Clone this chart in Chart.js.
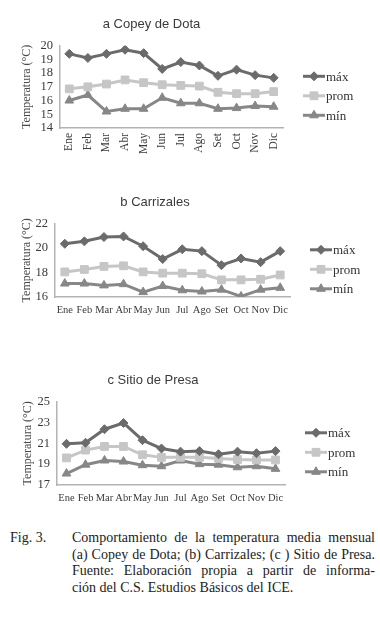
<!DOCTYPE html>
<html>
<head>
<meta charset="utf-8">
<script src="https://cdn.jsdelivr.net/npm/chart.js@4"></script>
<style>
  body { margin: 0; background: #fff; width: 380px; height: 619px; position: relative; overflow: hidden; }
  .box { position: absolute; left: 0; width: 380px; }
  .cap { position: absolute; font-family: "Liberation Serif", serif; font-size: 14px; color: #222; line-height: 16.7px; }
  .cap div { text-align: justify; text-align-last: justify; white-space: nowrap; }
  .cap div.last { text-align-last: left; }
</style>
</head>
<body>
<div class="box" style="top:0"><canvas id="chartA" width="380" height="160"></canvas></div>
<div class="box" style="top:180px"><canvas id="chartB" width="380" height="140"></canvas></div>
<div class="box" style="top:360px"><canvas id="chartC" width="380" height="145"></canvas></div>

<div class="cap" style="left:10px; top:530px;">Fig. 3.</div>
<div class="cap" style="left:72px; top:530px; width:303px;">
  <div>Comportamiento de la temperatura media mensual</div>
  <div>(a) Copey de Dota; (b) Carrizales; (c ) Sitio de Presa.</div>
  <div>Fuente: Elaboración propia a partir de informa-</div>
  <div class="last">ción del C.S. Estudios Básicos del ICE.</div>
</div>

<script>
const meses = ['Ene', 'Feb', 'Mar', 'Abr', 'May', 'Jun', 'Jul', 'Ago', 'Set', 'Oct', 'Nov', 'Dic'];

// a Copey de Dota
const copeyMax  = [19.4, 19.1, 19.4, 19.7, 19.45, 18.3, 18.8, 18.55, 17.8, 18.25, 17.85, 17.65];
const copeyProm = [16.85, 17.0, 17.2, 17.5, 17.3, 17.15, 17.1, 17.05, 16.6, 16.5, 16.5, 16.65];
const copeyMin  = [16.0, 16.4, 15.2, 15.4, 15.4, 16.2, 15.8, 15.8, 15.4, 15.45, 15.6, 15.55];

// b Carrizales
const carrMax  = [20.35, 20.55, 20.9, 20.95, 20.15, 19.1, 19.9, 19.75, 18.6, 19.15, 18.85, 19.75];
const carrProm = [18.05, 18.25, 18.5, 18.55, 18.05, 17.95, 17.95, 17.9, 17.4, 17.4, 17.45, 17.8];
const carrMin  = [17.1, 17.1, 16.95, 17.05, 16.4, 16.9, 16.55, 16.45, 16.6, 16.05, 16.6, 16.75];

// c Sitio de Presa
const presaMax  = [20.95, 21.05, 22.35, 22.95, 21.3, 20.5, 20.2, 20.25, 19.95, 20.2, 20.05, 20.25];
const presaProm = [19.6, 20.35, 20.7, 20.7, 19.9, 19.65, 19.65, 19.65, 19.55, 19.45, 19.4, 19.4];
const presaMin  = [18.1, 18.95, 19.35, 19.25, 18.9, 18.8, 19.35, 19.0, 18.95, 18.7, 18.8, 18.55];

const serieNombres = ['máx', 'prom', 'mín'];
const serieColores = ['#6b6b6b', '#c6c6c6', '#878787'];
const serieMarcas = ['rectRot', 'rect', 'triangle'];
const serieRadios = [4.5, 5.5, 5];

const serif = "'Liberation Serif', 'DejaVu Serif', serif";

// legend drawn as line + marker + text, like the original
const legendaLinea = {
  id: 'legendaLinea',
  afterDraw(chart) {
    const ctx = chart.ctx;
    const a = chart.chartArea;
    const x0 = a.right + 20;
    const yc = (a.top + a.bottom) / 2 + 9;
    chart.data.datasets.forEach((ds, i) => {
      const y = yc + (i - 1) * 19.5;
      ctx.save();
      ctx.strokeStyle = ds.borderColor;
      ctx.fillStyle = ds.borderColor;
      ctx.lineWidth = 3;
      ctx.beginPath();
      ctx.moveTo(x0, y);
      ctx.lineTo(x0 + 22, y);
      ctx.stroke();
      ctx.lineWidth = 1;
      Chart.helpers.drawPoint(ctx, {
        pointStyle: ds.pointStyle, radius: ds.pointRadius, borderWidth: 1
      }, x0 + 11, y);
      ctx.fillStyle = '#333';
      ctx.font = '13px ' + serif;
      ctx.textBaseline = 'middle';
      ctx.fillText(ds.label, x0 + 23, y + 1);
      ctx.restore();
    });
  }
};

function hacerGrafico(id, titulo, series, cfg) {
  const c = document.getElementById(id);
  return new Chart(c, {
    type: 'line',
    data: {
      labels: meses,
      datasets: series.map((d, i) => ({
        label: serieNombres[i],
        data: d,
        borderColor: serieColores[i],
        backgroundColor: serieColores[i],
        pointStyle: serieMarcas[i],
        pointRadius: serieRadios[i],
        pointBorderWidth: 1,
        borderWidth: 3,
        tension: 0
      }))
    },
    options: {
      responsive: false,
      animation: false,
      layout: { padding: { left: cfg.padLeft, right: cfg.padRight, top: 0, bottom: 0 } },
      plugins: {
        legend: { display: false },
        tooltip: { enabled: false },
        title: {
          display: true,
          text: titulo,
          color: '#3a3a3a',
          font: { family: "'Liberation Sans', Arial, sans-serif", size: 13, weight: 'normal' },
          padding: { top: cfg.titleTop, bottom: cfg.titleBottom }
        }
      },
      scales: {
        x: {
          offset: true,
          grid: { display: false, drawTicks: false },
          border: { display: true, color: '#b3b3b3', width: 1.5 },
          ticks: {
            autoSkip: false,
            minRotation: cfg.rot, maxRotation: cfg.rot,
            padding: cfg.xPad,
            color: '#3a3a3a',
            font: { family: serif, size: cfg.xSize }
          },
          afterFit(s) { s.height = cfg.xHeight; }
        },
        y: {
          min: cfg.min, max: cfg.max,
          grid: { display: false, drawTicks: false },
          border: { display: true, color: '#b3b3b3', width: 1.5 },
          ticks: {
            autoSkip: false,
            stepSize: cfg.step,
            padding: 7,
            color: '#3a3a3a',
            font: { family: serif, size: 12.5 }
          },
          title: {
            display: true,
            text: 'Temperatura (°C)',
            color: '#4a4a4a',
            font: { family: serif, size: 12 },
            padding: { top: 0, bottom: 0 }
          },
          afterFit(s) { s.width = cfg.yWidth; }
        }
      }
    },
    plugins: [legendaLinea]
  });
}

hacerGrafico('chartA', 'a Copey de Dota', [copeyMax, copeyProm, copeyMin], {
  padLeft: 20, padRight: 97, yWidth: 40, titleTop: 17, titleBottom: 13,
  xHeight: 32, rot: 90, xPad: 5, xSize: 11.5, min: 14, max: 20, step: 1
});
hacerGrafico('chartB', 'b Carrizales', [carrMax, carrProm, carrMin], {
  padLeft: 20, padRight: 90, yWidth: 35, titleTop: 15, titleBottom: 13,
  xHeight: 23, rot: 0, xPad: 7, xSize: 10.5, min: 16, max: 22, step: 2
});
hacerGrafico('chartC', 'c Sitio de Presa', [presaMax, presaProm, presaMin], {
  padLeft: 21, padRight: 95, yWidth: 36, titleTop: 13, titleBottom: 13,
  xHeight: 20, rot: 0, xPad: 7, xSize: 10.5, min: 17, max: 25, step: 2
});
</script>
</body>
</html>
